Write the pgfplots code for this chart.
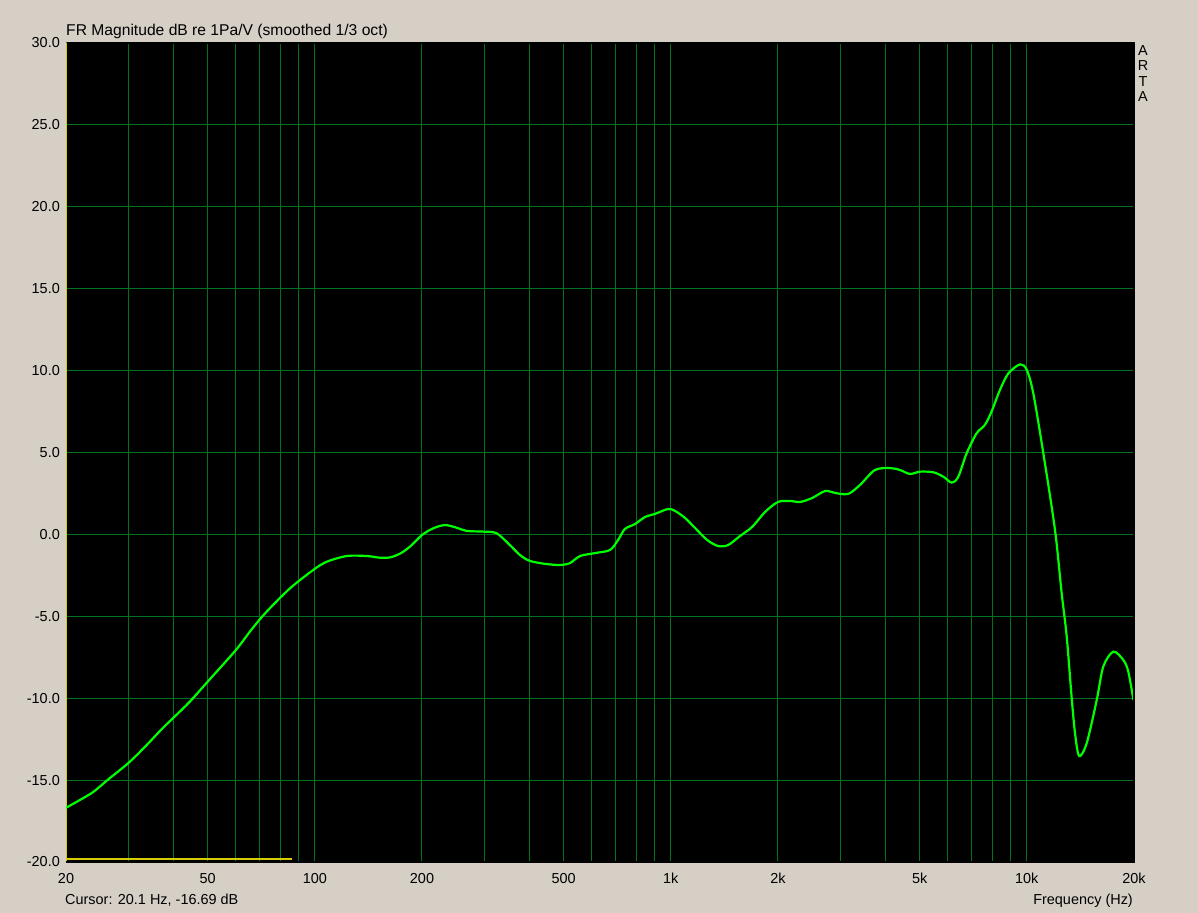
\documentclass[border=0pt]{standalone}
\usepackage{pgfplots}
\pgfplotsset{compat=1.18}
\usepackage{fontspec}
\setmainfont{Liberation Sans}
\definecolor{bgbeige}{RGB}{214,207,198}
\definecolor{gridgreen}{RGB}{0,115,30}
\definecolor{curvegreen}{RGB}{0,255,0}
\definecolor{cursoryellow}{RGB}{215,205,0}
\begin{document}
\begin{tikzpicture}[x=1bp,y=1bp]
\fill[bgbeige] (-66,-51) rectangle (1132,862);
\begin{axis}[
  at={(0,0)}, anchor=south west,
  scale only axis, width=1068bp, height=819bp,
  xmode=log, xmin=20, xmax=20000, ymin=-20, ymax=30,
  axis background/.style={fill=black},
  axis line style={draw=none},
  xtick={20,50,100,200,500,1000,2000,5000,10000,20000},
  xticklabels={20,50,100,200,500,1k,2k,5k,10k,20k},
  minor xtick={30,40,60,70,80,90,300,400,600,700,800,900,3000,4000,6000,7000,8000,9000},
  ytick={-20,-15,-10,-5,0,5,10,15,20,25,30},
  yticklabels={-20.0,-15.0,-10.0,-5.0,0.0,5.0,10.0,15.0,20.0,25.0,30.0},
  major tick length=0pt, minor tick length=0pt,
  grid=both,
  major grid style={draw=gridgreen, line width=1bp},
  minor grid style={draw=gridgreen, line width=1bp},
  tick label style={font=\fontsize{14.5}{16}\selectfont, text=black},
  yticklabel style={anchor=east, inner sep=0pt, xshift=-6bp},
  xticklabel style={anchor=north, inner sep=0pt, yshift=-11bp},
  clip=true,
]
\addplot[cursoryellow, line width=2.5bp] coordinates {(20,-19.82) (86.3,-19.82)};
\addplot[cursoryellow, line width=1.5bp] coordinates {(20.05,-20) (20.05,30)};
\addplot[curvegreen, line width=2.2bp, smooth, tension=0.5] coordinates {
(20,-16.69) (21.9,-16.21) (23.9,-15.71) (26.3,-14.95) (30,-13.94) (33.7,-12.86)
(37.5,-11.80) (44.1,-10.31) (50,-8.99) (60,-7.06) (66.6,-5.77)
(73.2,-4.72) (85.2,-3.29) (99,-2.17) (108,-1.67) (123,-1.32) (140,-1.32)
(152,-1.42) (163,-1.40) (174,-1.16) (185,-0.75) (200,-0.04) (215,0.37)
(232,0.57) (250,0.41) (267,0.21) (297,0.17) (324,0.07) (353,-0.65)
(377,-1.26) (402,-1.62) (444,-1.80) (488,-1.87) (521,-1.75) (556,-1.32)
(613,-1.14) (675,-0.95) (711,-0.34) (743,0.33) (793,0.63) (846,1.06)
(902,1.25) (982,1.55) (1028,1.43) (1097,1.00) (1170,0.39) (1265,-0.34)
(1357,-0.71) (1449,-0.65) (1564,-0.10) (1691,0.45) (1840,1.37) (2000,1.98)
(2163,2.04) (2307,1.98) (2494,2.22) (2714,2.65) (2892,2.53) (3148,2.47)
(3400,3.02) (3744,3.93) (4129,4.05) (4404,3.93) (4698,3.69) (5013,3.83)
(5466,3.79) (5830,3.52) (6155,3.16) (6420,3.52) (6776,4.95) (7228,6.17)
(7623,6.68) (7960,7.49) (8405,8.82) (8877,9.83) (9572,10.38) (10000,10.04)
(10429,8.61) (11128,4.95) (12000,0.27) (12530,-3.6) (12940,-6.2) (13370,-10.0)
(13660,-12.14) (14030,-13.53) (14730,-12.75) (15720,-10.11) (16400,-8.07)
(17500,-7.16) (18670,-7.67) (19280,-8.38) (19930,-10.11)
};
\end{axis}
\draw[black, line width=1.5bp] (0,0) -- (1068,0) -- (1068,819) -- (0.8,819);
\node[anchor=base west, inner sep=0pt, font=\fontsize{15.7}{17}\selectfont] at (0,826) {FR Magnitude dB re 1Pa/V (smoothed 1/3 oct)};
\node[anchor=north, inner sep=0pt, align=center, font=\fontsize{14.5}{15.5}\selectfont] at (1077,817) {A\\R\\T\\A};
\node[anchor=base west, inner sep=0pt, font=\fontsize{14.5}{16}\selectfont] at (-1,-43) {Cursor: 20.1 Hz, -16.69 dB};
\node[anchor=base east, inner sep=0pt, font=\fontsize{14.5}{16}\selectfont] at (1067,-43) {Frequency (Hz)};
\end{tikzpicture}
\end{document}
